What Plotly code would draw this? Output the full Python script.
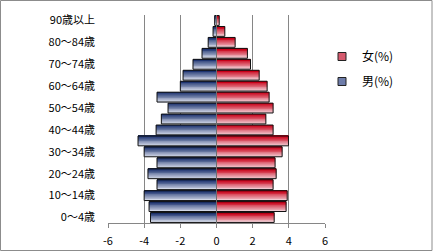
import plotly.graph_objects as go

categories = ["0～4歳", "5～9歳", "10～14歳", "15～19歳", "20～24歳", "25～29歳",
              "30～34歳", "35～39歳", "40～44歳", "45～49歳", "50～54歳", "55～59歳",
              "60～64歳", "65～69歳", "70～74歳", "75～79歳", "80～84歳", "85～89歳",
              "90歳以上"]
male = [3.65, 3.73, 4.00, 3.29, 3.79, 3.29, 4.00, 4.34, 3.34, 3.05, 2.68, 3.29,
        2.00, 1.85, 1.30, 0.80, 0.46, 0.19, 0.10]
female = [3.19, 3.85, 3.91, 3.13, 3.30, 3.24, 3.63, 3.98, 3.13, 2.73, 3.13, 2.91,
          2.80, 2.36, 1.88, 1.71, 1.03, 0.46, 0.15]
tick_labels = categories[::2]
x_ticks = [-6, -4, -2, 0, 2, 4, 6]
x_tick_text = ["-6", "-4", "-2", "0", "2", "4", "6"]

FONT = "Noto Sans CJK JP"
BAR_W = 0.9
N = 12


def lerp(c1, c2, t):
    return "rgb(%d,%d,%d)" % tuple(round(a + (b - a) * t) for a, b in zip(c1, c2))


series = [
    ("女(%)", female, 1, (200, 0, 24), (246, 220, 226), "rgb(214,90,110)"),
    ("男(%)", male, -1, (30, 52, 112), (226, 230, 242), "rgb(110,125,170)"),
]

fig = go.Figure()
step = BAR_W / N
for rank, (name, vals, sign, top, bottom, mid) in enumerate(series):
    xs = [sign * v for v in vals]
    for i in range(N):
        t = i / (N - 1)  # 0 bottom -> 1 top
        w = step * (1.2 if i < N - 1 else 1.0)
        fig.add_trace(go.Bar(
            y=categories, x=xs, orientation="h", width=w,
            offset=-BAR_W / 2 + i * step,
            marker=dict(color=lerp(bottom, top, t), line=dict(width=0)),
            showlegend=False, hoverinfo="skip"))
    fig.add_trace(go.Bar(
        y=categories, x=xs, orientation="h", width=BAR_W,
        marker=dict(color="rgba(0,0,0,0)", line=dict(color="#111111", width=1)),
        showlegend=False, hoverinfo="skip"))
    # legend entry (small square swatch like the original)
    fig.add_trace(go.Scatter(
        x=[None], y=[None], mode="markers", name=name,
        marker=dict(symbol="square", size=8, color=mid,
                    line=dict(color="#222222", width=1)),
        legendrank=rank + 1, legendgroup=name, hoverinfo="skip"))

L, R, T, B = 108, 108, 15, 29
W, H = 433, 252
pw, ph = W - L - R, H - T - B


def px(x):
    return (x - L) / pw


def py(y):
    return 1 - (y - T) / ph


fig.add_shape(type="line", xref="x", yref="paper", x0=0, x1=0, y0=0, y1=1,
              line=dict(color="#6f6f6f", width=1), layer="above")
fig.add_shape(type="rect", xref="paper", yref="paper",
              x0=px(0.5), x1=px(432), y0=py(0.5), y1=py(250.5),
              line=dict(color="#8c8c8c", width=1), layer="above")

fig.update_layout(
    template="none",
    width=W, height=H, margin=dict(l=L, r=R, t=T, b=B, autoexpand=False),
    barmode="overlay", plot_bgcolor="white", paper_bgcolor="white",
    font=dict(family=FONT, size=11, color="black"),
    showlegend=True,
    legend=dict(x=px(322), y=py(42), xanchor="left", yanchor="top",
                traceorder="grouped", tracegroupgap=6,
                font=dict(family=FONT, size=12, color="black"),
                bgcolor="rgba(0,0,0,0)", borderwidth=0, itemwidth=30),
    xaxis=dict(range=[-6, 6], tickvals=x_ticks, ticktext=x_tick_text,
               showgrid=True, gridcolor="#868686", gridwidth=1,
               zeroline=False, showline=True, linecolor="#868686", linewidth=1,
               ticks="outside", ticklen=4, tickcolor="#868686", tickwidth=1,
               ticklabelstandoff=4, automargin=False, fixedrange=True),
    yaxis=dict(type="category", categoryorder="array", categoryarray=categories,
               range=[-0.5, len(categories) - 0.5],
               tickvals=tick_labels, ticktext=tick_labels,
               showgrid=False, zeroline=False, showline=False, ticks="",
               ticklabelstandoff=12, automargin=False, fixedrange=True),
)

fig.write_html("out.html")
